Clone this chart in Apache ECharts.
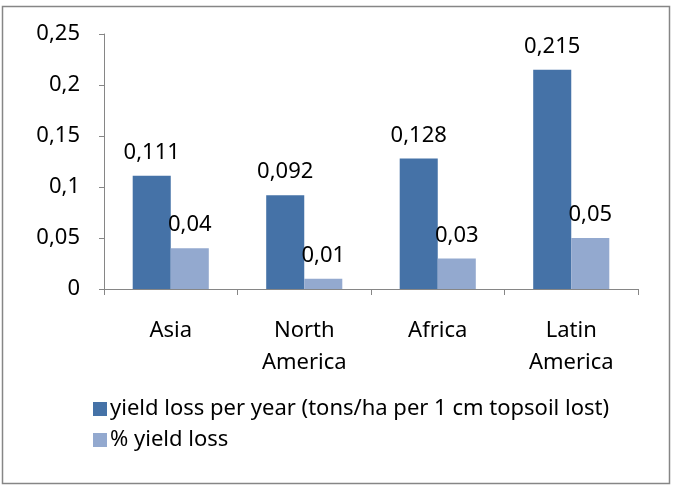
<!DOCTYPE html>
<html><head><meta charset="utf-8">
<script src="https://cdn.jsdelivr.net/npm/echarts@6/dist/echarts.min.js"></script>
<style>html,body{margin:0;padding:0;background:#fff}#c{width:673px;height:486px}</style>
</head><body><div id="c"></div>
<script>
const categories = ['Asia', 'North\nAmerica', 'Africa', 'Latin\nAmerica'];
const yieldLossPerYear = [0.111, 0.092, 0.128, 0.215];
const pctYieldLoss = [0.04, 0.01, 0.03, 0.05];
const seriesNames = ['yield loss per year (tons/ha per 1 cm topsoil lost)', '% yield loss'];

const FONT = 'Noto Sans';
const FS = 22;
const comma = v => String(v).replace('.', ',');
const chart = echarts.init(document.getElementById('c'));
const labelStyle = {show: true, position: 'top', distance: 12, fontFamily: FONT, fontSize: FS, color: '#000',
  formatter: p => comma(p.value)};
chart.setOption({
  animation: false,
  textStyle: {fontFamily: FONT},
  graphic: [{type: 'rect', shape: {x: 2.5, y: 6.5, width: 667, height: 477},
    style: {fill: 'none', stroke: '#868686', lineWidth: 1.5}}],
  grid: {left: 104, right: 35, top: 34, bottom: 197, containLabel: false},
  legend: {
    orient: 'vertical', left: 88, top: 393, itemWidth: 14, itemHeight: 14, itemGap: 9,
    icon: 'rect', textStyle: {fontFamily: FONT, fontSize: FS, color: '#000', padding: [0, 0, 0, -2]},
    data: seriesNames
  },
  xAxis: {
    type: 'category', data: categories,
    axisLine: {lineStyle: {color: '#868686', width: 1}},
    axisTick: {show: true, length: 6, lineStyle: {color: '#868686'}},
    axisLabel: {fontFamily: FONT, fontSize: FS, color: '#000', margin: 26, lineHeight: 32}
  },
  yAxis: {
    type: 'value', min: 0, max: 0.25, interval: 0.05,
    axisLine: {show: true, lineStyle: {color: '#868686', width: 1}},
    axisTick: {show: true, length: 5, lineStyle: {color: '#868686'}},
    splitLine: {show: false},
    axisLabel: {fontFamily: FONT, fontSize: FS, color: '#000', margin: 24, formatter: v => comma(v)}
  },
  series: [
    {name: seriesNames[0], type: 'bar', data: yieldLossPerYear, barGap: '0%', barCategoryGap: '43%',
      itemStyle: {color: '#4572A7'}, label: labelStyle},
    {name: seriesNames[1], type: 'bar', data: pctYieldLoss,
      itemStyle: {color: '#93A9CF'}, label: labelStyle}
  ]
});
</script></body></html>
